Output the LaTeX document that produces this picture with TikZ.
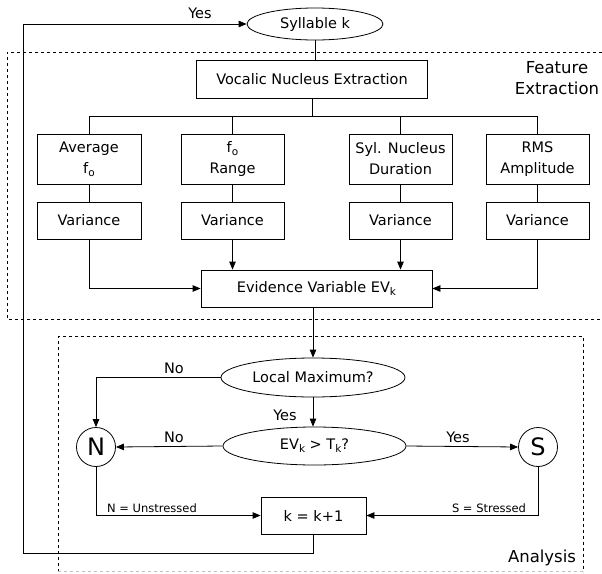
\documentclass[tikz,border=0pt]{standalone}
\usepackage{fontspec}
\setmainfont{DejaVu Sans}
\usetikzlibrary{arrows.meta,shapes.geometric}
\newcommand\lowsub[1]{\raisebox{-0.4ex}{\fontsize{10.5}{10.5}\selectfont #1}}
\begin{document}
\begin{tikzpicture}[x=1pt,y=-1pt,
  font=\fontsize{14.5}{21}\selectfont,
  every node/.style={inner sep=0pt},
  blk/.style={draw, line width=0.8pt, align=center},
  oval/.style={draw, ellipse, line width=0.8pt},
  circ/.style={draw, circle, minimum size=39pt, line width=0.8pt, font=\fontsize{24}{24}\selectfont},
  conn/.style={line width=0.8pt},
  arr/.style={conn, -{Triangle[length=8pt,width=6.5pt]}},
  sect/.style={line width=0.8pt, dash pattern=on 3pt off 3pt},
  small/.style={font=\fontsize{11.5}{13}\selectfont},
  title/.style={font=\fontsize{16.5}{21}\selectfont, align=center}
]
\useasboundingbox (0,0) rectangle (602,573);

% section frames
\draw[sect] (602,52) -- (7,52) -- (7,319) -- (602,319);
\draw[sect] (58,571.5) -- (58,336) -- (583,336) -- (583,571.5);
\draw[sect, gray!50] (58,571.5) -- (583,571.5);
\node[title] (ftitle) at (557,78) {Feature\\Extraction};
\node[title] (atitle) at (542,558) {Analysis};

% nodes
\node[oval, minimum width=136pt, minimum height=32pt] (syl) at (315,24) {Syllable k};
\node[blk, minimum width=231pt, minimum height=38pt] (voc) at (312,79) {Vocalic Nucleus Extraction};
\node[blk, minimum width=104pt, minimum height=50pt] (avg) at (89,159) {Average\\f\lowsub{o}};
\node[blk, minimum width=103pt, minimum height=50pt] (rng) at (232.5,159) {f\lowsub{o}\\Range};
\node[blk, minimum width=103pt, minimum height=50pt] (dur) at (400.5,159) {Syl. Nucleus\\Duration};
\node[blk, minimum width=103pt, minimum height=50pt] (rms) at (537.5,159) {RMS\\Amplitude};
\node[blk, minimum width=104pt, minimum height=37pt] (v1) at (89,220.5) {Variance};
\node[blk, minimum width=103pt, minimum height=37pt] (v2) at (232.5,220.5) {Variance};
\node[blk, minimum width=103pt, minimum height=37pt] (v3) at (400.5,220.5) {Variance};
\node[blk, minimum width=103pt, minimum height=37pt] (v4) at (537.5,220.5) {Variance};
\node[blk, minimum width=231pt, minimum height=37pt] (evb) at (316.5,288.5) {Evidence Variable EV\lowsub{k}};
\node[oval, minimum width=184pt, minimum height=39pt] (lm) at (313,377.5) {Local Maximum?};
\node[oval, minimum width=183pt, minimum height=38pt] (evt) at (314.5,446) {EV\lowsub{k} > T\lowsub{k}?};
\node[circ] (N) at (96,447) {N};
\node[circ] (S) at (538,447) {S};
\node[blk, minimum width=105pt, minimum height=37pt] (kb) at (313.5,515.5) {k = k+1};

\coordinate (bus) at (0,116);
\coordinate (loopL) at (23,553);

% connectors
\draw[conn] (syl.south) -- (syl.south |- voc.north);
\draw[conn] (voc.south) -- (voc.south |- bus);
\draw[conn] (avg.north |- bus) -- (rms.north |- bus);
\foreach \n in {avg,rng,dur,rms} \draw[conn] (\n.north) -- (\n.north |- bus);
\draw[conn] (avg.south) -- (v1.north);
\draw[conn] (rng.south) -- (v2.north);
\draw[conn] (dur.south) -- (v3.north);
\draw[conn] (rms.south) -- (v4.north);
\draw[arr] (v1.south) |- (evb.west);
\draw[arr] (v2.south) -- (v2.south |- evb.north);
\draw[arr] (v3.south) -- (v3.south |- evb.north);
\draw[arr] (v4.south) |- (evb.east);
\draw[arr] (lm.north |- evb.south) -- (lm.north);
\draw[arr] (lm.south) -- (lm.south |- evt.north);
\draw[arr] (lm.west) -| (N.north);
\draw[arr] (evt.west) -- (N.east);
\draw[arr] (evt.east) -- (S.west);
\draw[arr] (N.south) |- (kb.west);
\draw[arr] (S.south) |- (kb.east);
\draw[arr] (kb.south) |- (loopL) |- (syl.west);

% labels
\node (l1) at (200,13) {Yes};
\node (l2) at (174,368) {No};
\node (l3) at (174,437) {No};
\node (l4) at (285,415) {Yes};
\node (l5) at (458,437) {Yes};
\node[small] (l6) at (152,508) {N = Unstressed};
\node[small] (l7) at (489,508) {S = Stressed};
\end{tikzpicture}
\end{document}
